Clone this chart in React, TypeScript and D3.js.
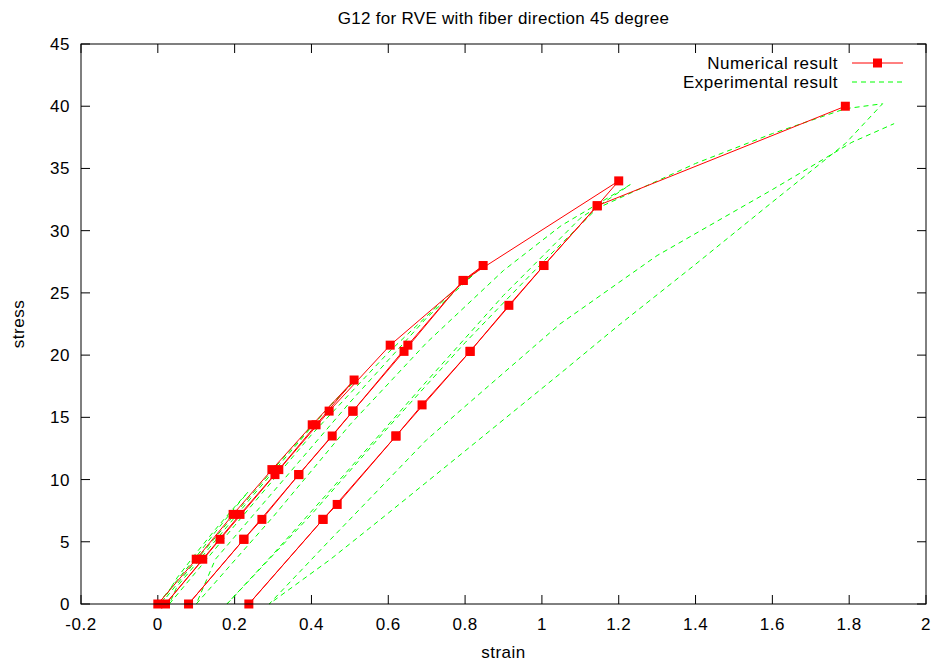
import React from 'react';
import * as d3 from 'd3';

// axis ticks
const xTicks = [-0.2, 0, 0.2, 0.4, 0.6, 0.8, 1, 1.2, 1.4, 1.6, 1.8, 2];
const yTicks = [0, 5, 10, 15, 20, 25, 30, 35, 40, 45];

// numerical result (one polyline, loading / unloading cycles)
const numericalStrain = [
  0, 0.1, 0.196, 0.297, 0.402, 0.511,
  0.412, 0.315, 0.214, 0.117, 0.02,
  0.162, 0.305, 0.446, 0.605, 0.847,
  0.795, 0.651, 0.508, 0.454, 0.367, 0.271, 0.224, 0.08,
  0.224, 0.367, 0.508, 0.641, 0.795, 1.2,
  1.144, 1.005, 0.914, 0.813, 0.688, 0.62, 0.467, 0.43, 0.237,
  0.43, 0.62, 0.813, 1.005, 1.144, 1.79,
];
const numericalStress = [
  0, 3.6, 7.2, 10.8, 14.4, 18,
  14.4, 10.8, 7.2, 3.6, 0,
  5.2, 10.4, 15.5, 20.8, 27.2,
  26, 20.8, 15.5, 13.5, 10.4, 6.8, 5.2, 0,
  5.2, 10.4, 15.5, 20.3, 26, 34,
  32, 27.2, 24, 20.3, 16, 13.5, 8, 6.8, 0,
  6.8, 13.5, 20.3, 27.2, 32, 40,
];

// experimental result, one array per cycle [strain, stress]
const expCycle1: [number, number][] = [
  [0, 0], [0.05, 1.9], [0.1, 3.8], [0.15, 5.8], [0.2, 7.7], [0.235, 9.0],
  [0.2, 7.8], [0.15, 6.0], [0.1, 4.1], [0.05, 2.1], [0.008, 0],
];
const expCycle2: [number, number][] = [
  [0.008, 0], [0.1, 3.5], [0.2, 7.2], [0.3, 10.8], [0.4, 14.3], [0.5, 17.6], [0.52, 18.1],
  [0.45, 16.0], [0.35, 12.4], [0.25, 8.8], [0.15, 5.1], [0.05, 1.4], [0.03, 0],
];
const expCycle3: [number, number][] = [
  [0.03, 0], [0.2, 6.3], [0.4, 13.6], [0.6, 20.2], [0.75, 24.6], [0.83, 26.7],
  [0.7, 23.0], [0.5, 16.2], [0.3, 9.0], [0.15, 3.6], [0.1, 0],
];
const expCycle4: [number, number][] = [
  [0.1, 0], [0.3, 7.0], [0.5, 14.4], [0.7, 21.0], [0.9, 26.8], [1.05, 30.4], [1.23, 33.7],
  [1.1, 31.0], [0.9, 24.8], [0.7, 17.9], [0.5, 10.9], [0.3, 4.0], [0.18, 0],
];
const expCycle5: [number, number][] = [
  [0.18, 0], [0.4, 7.2], [0.6, 14.2], [0.8, 21.0], [1.0, 27.4], [1.144, 31.8],
  [1.4, 35.4], [1.6, 37.8], [1.79, 39.8], [1.887, 40.2],
  [1.79, 37.0], [1.6, 32.3], [1.4, 27.3], [1.2, 22.4], [1.047, 18.5], [0.8, 12.3],
  [0.6, 7.3], [0.45, 3.6], [0.29, 0],
  [0.45, 5.2], [0.7, 13.2], [1.047, 22.5], [1.3, 28.0], [1.6, 33.3], [1.807, 37.1], [1.917, 38.6],
];
const experimental = [expCycle1, expCycle2, expCycle3, expCycle4, expCycle5];

const W = 935;
const H = 666;
const left = 81;
const right = 926;
const top = 44;
const bottom = 604;
const font = 'Liberation Sans, Arial, Helvetica, sans-serif';

export default function App() {
  const x = d3.scaleLinear().domain([-0.2, 2]).range([left, right]);
  const y = d3.scaleLinear().domain([0, 45]).range([bottom, top]);

  const line = d3.line<[number, number]>().x(d => x(d[0])).y(d => y(d[1]));
  const numPts: [number, number][] = numericalStrain.map((s, i) => [s, numericalStress[i]]);

  const tick = 9;
  const ms = 9;
  const fs = 17;
  const ls = 0.5;
  const dash = '5,4';

  return (
    <svg width={W} height={H} style={{ position: 'absolute', left: 0, top: 0, background: '#fff' }}
      fontFamily={font}>
      <text x={(left + right) / 2} y={24} textAnchor="middle" fontSize={fs} letterSpacing={0.3}>
        G12 for RVE with fiber direction 45 degree
      </text>

      {/* ticks */}
      {xTicks.map(t => (
        <g key={'x' + t}>
          <line x1={x(t)} x2={x(t)} y1={bottom} y2={bottom - tick} stroke="#000" />
          <line x1={x(t)} x2={x(t)} y1={top} y2={top + tick} stroke="#000" />
          <text x={x(t)} y={bottom + 26} textAnchor="middle" fontSize={fs} letterSpacing={ls}>{String(t)}</text>
        </g>
      ))}
      {yTicks.map(t => (
        <g key={'y' + t}>
          <line x1={left} x2={left + tick} y1={y(t)} y2={y(t)} stroke="#000" />
          <line x1={right} x2={right - tick} y1={y(t)} y2={y(t)} stroke="#000" />
          <text x={left - 11} y={y(t) + 6} textAnchor="end" fontSize={fs} letterSpacing={ls}>{t}</text>
        </g>
      ))}

      <text x={(left + right) / 2} y={658} textAnchor="middle" fontSize={fs} letterSpacing={ls}>strain</text>
      <text transform={`translate(24,${(top + bottom) / 2}) rotate(-90)`} textAnchor="middle" fontSize={fs} letterSpacing={ls}>stress</text>

      {/* experimental */}
      {experimental.map((c, i) => (
        <path key={'e' + i} d={line(c) || ''} fill="none" stroke="#00ff00" strokeWidth={1} strokeDasharray={dash} />
      ))}

      {/* numerical */}
      <path d={line(numPts) || ''} fill="none" stroke="#ff0000" strokeWidth={1} />
      {numPts.map((p, i) => (
        <rect key={'m' + i} x={x(p[0]) - ms / 2} y={y(p[1]) - ms / 2} width={ms} height={ms} fill="#ff0000" />
      ))}

      {/* legend */}
      <text x={838} y={69} textAnchor="end" fontSize={fs} letterSpacing={ls}>Numerical result</text>
      <line x1={852} x2={903} y1={63} y2={63} stroke="#ff0000" />
      <rect x={877.5 - ms / 2} y={63 - ms / 2} width={ms} height={ms} fill="#ff0000" />
      <text x={838} y={88} textAnchor="end" fontSize={fs} letterSpacing={ls}>Experimental result</text>
      <line x1={852} x2={903} y1={82} y2={82} stroke="#00ff00" strokeDasharray={dash} />

      <rect x={left} y={top} width={right - left} height={bottom - top} fill="none" stroke="#000" strokeWidth={1} />
    </svg>
  );
}
